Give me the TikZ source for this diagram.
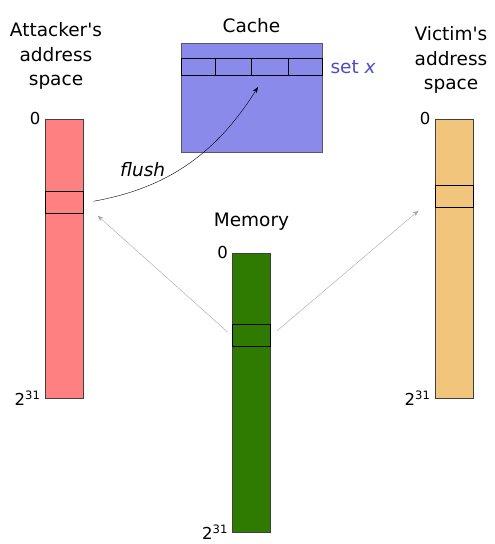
\documentclass[tikz,border=0pt]{standalone}
\usepackage{fontspec}
\setmainfont{DejaVu Sans}
\usepackage{xcolor}
\usetikzlibrary{arrows.meta, positioning, calc}

\definecolor{attfill}{HTML}{FF8080}
\definecolor{vicfill}{HTML}{F2C57D}
\definecolor{memfill}{HTML}{2F7A00}
\definecolor{cachefill}{HTML}{8A8AEB}
\definecolor{setblue}{HTML}{4B4BC8}

\begin{document}
\begin{tikzpicture}[x=1pt, y=1pt,
    bar/.style={draw=black!75, line width=0.8pt, minimum width=38pt, minimum height=279pt, inner sep=0pt},
    slot/.style={draw=black, line width=1pt, minimum width=38pt, minimum height=22pt, inner sep=0pt},
    lbl/.style={font=\fontsize{18.5}{24.5}\selectfont, align=center},
    num/.style={font=\fontsize{16.5}{18}\selectfont, inner sep=0pt},
    map/.style={draw=black!35, -{Stealth[length=6pt, width=4.5pt]}}]
    \useasboundingbox (0,0) rectangle (495,544);

    % address spaces
    \node[bar, fill=attfill] (att) at (64,285.5) {};
    \node[bar, fill=vicfill] (vic) at (454,285.5) {};
    \node[bar, fill=memfill] (mem) at (251.5,151.5) {};
    \node[slot] (aslot) at (64,341) {};
    \node[slot] (vslot) at (454,347) {};
    \node[slot] (mslot) at (251.5,208) {};

    \node[num, left=4pt of att.north west] {0};
    \node[num, left=4pt of att.south west] {2\textsuperscript{31}};
    \node[num, left=4pt of vic.north west] {0};
    \node[num, left=4pt of vic.south west] {2\textsuperscript{31}};
    \node[num, left=4pt of mem.north west] {0};
    \node[num, left=4pt of mem.south west] {2\textsuperscript{31}};

    \node[lbl] (attlbl) at (56,488) {Attacker\textquotesingle s\\address\\space};
    \node[lbl] (viclbl) at (451,484) {Victim\textquotesingle s\\address\\space};
    \node[lbl] (memlbl) at (251.5,322) {Memory};

    % cache with one set
    \node[draw=black!65, line width=0.8pt, fill=cachefill, minimum width=141pt, minimum height=109pt, inner sep=0pt] (cache) at (251.5,446.5) {};
    \node[lbl, above=6pt of cache] {Cache};
    \node[draw=black, line width=1pt, minimum width=141pt, minimum height=17pt, inner sep=0pt] (row) at (251.5,476.5) {};
    \foreach \x in {215,251,288}
        \draw[line width=1pt] (row.north -| \x,0) -- (row.south -| \x,0);
    \node[lbl, text=setblue, anchor=west] (setx) at (327,476.5) {set \textit{x}};

    % mappings and flush
    \draw[map, shorten <=6pt, shorten >=19pt] (mslot.west) -- (aslot.east);
    \draw[map, shorten <=8pt, shorten >=21pt] (mslot.east) -- (vslot.west);
    \coordinate (tgt) at (258,457);
    \draw[-{Stealth[length=6pt, width=4.5pt]}, shorten <=10pt] (aslot.east) to[out=10, in=238] node[lbl, pos=0.27, above=7pt] {\textit{flush}} (tgt);
\end{tikzpicture}
\end{document}
